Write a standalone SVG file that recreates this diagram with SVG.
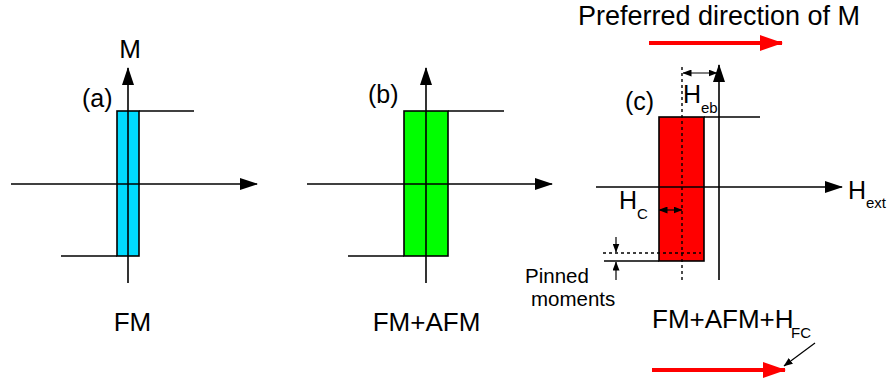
<svg xmlns="http://www.w3.org/2000/svg" width="891" height="382" viewBox="0 0 891 382">
<style>
text{font-family:"Liberation Sans",Arial,sans-serif;fill:#000}
.ax{stroke:#000;stroke-width:1.6;fill:none}
.ln{stroke:#000;stroke-width:1.6;fill:none}
.box{stroke:#000;stroke-width:1.6}
.dash{stroke:#000;stroke-width:1.4;stroke-dasharray:3,3;fill:none}
.thin{stroke:#000;stroke-width:1.2;fill:none}
.red{stroke:#ff0000;stroke-width:4;fill:none}
.big{font-size:26px}
.lab{font-size:25px}
.sub{font-size:15px}
</style>
<defs>
<marker id="ah" viewBox="0 0 18 12" refX="17" refY="6" markerWidth="18" markerHeight="12" markerUnits="userSpaceOnUse" orient="auto"><path d="M0,0 L18,6 L0,12 Z" fill="#000"/></marker>
<marker id="sh" viewBox="0 0 9 7" refX="8.5" refY="3.5" markerWidth="9" markerHeight="7" markerUnits="userSpaceOnUse" orient="auto"><path d="M0,0 L9,3.5 L0,7 Z" fill="#000"/></marker>
<marker id="shs" viewBox="0 0 9 7" refX="0.5" refY="3.5" markerWidth="9" markerHeight="7" markerUnits="userSpaceOnUse" orient="auto"><path d="M9,0 L0,3.5 L9,7 Z" fill="#000"/></marker>
<marker id="rh" viewBox="0 0 23 16" refX="22" refY="8" markerWidth="23" markerHeight="16" markerUnits="userSpaceOnUse" orient="auto"><path d="M0,0 L23,8 L0,16 Z" fill="#ff0000"/></marker>
</defs>

<g id="panel-a">
<rect class="box" x="117" y="111" width="22" height="145" fill="#00dbff"/>
<line class="ln" x1="139" y1="111" x2="194" y2="111"/>
<line class="ln" x1="61" y1="256" x2="117" y2="256"/>
<line class="ax" x1="11" y1="184" x2="257" y2="184" marker-end="url(#ah)"/>
<line class="ax" x1="128" y1="283" x2="128" y2="68" marker-end="url(#ah)"/>
<text class="big" x="130" y="58" text-anchor="middle">M</text>
<text class="lab" x="82" y="107">(a)</text>
<text class="big" x="132.5" y="331" text-anchor="middle">FM</text>
</g>

<g id="panel-b">
<rect class="box" x="404" y="111" width="44" height="145" fill="#00ff00"/>
<line class="ln" x1="448" y1="111" x2="504" y2="111"/>
<line class="ln" x1="348" y1="256" x2="404" y2="256"/>
<line class="ax" x1="307" y1="184" x2="552" y2="184" marker-end="url(#ah)"/>
<line class="ax" x1="426" y1="283" x2="426" y2="68" marker-end="url(#ah)"/>
<text class="lab" x="368" y="103">(b)</text>
<text class="big" x="426.5" y="331" text-anchor="middle">FM+AFM</text>
</g>

<g id="panel-c">
<rect class="box" x="659" y="117" width="45" height="144" fill="#ff0000"/>
<line class="ln" x1="704" y1="117" x2="760" y2="117"/>
<line class="ln" x1="604" y1="261" x2="659" y2="261"/>
<line class="ax" x1="596" y1="187" x2="842" y2="187" marker-end="url(#ah)"/>
<line class="ax" x1="719" y1="280" x2="719" y2="65" marker-end="url(#ah)"/>
<line class="dash" x1="682" y1="67" x2="682" y2="283"/>
<line class="dash" x1="603" y1="253" x2="701" y2="253"/>
<text class="lab" x="625" y="110">(c)</text>
<text class="lab" x="683" y="103">H</text>
<text class="sub" x="701" y="113">eb</text>
<text class="lab" x="619" y="209">H</text>
<text class="sub" x="637" y="219">C</text>
<text class="lab" x="848" y="199">H</text>
<text class="sub" x="866" y="208">ext</text>
<text font-size="20.5" x="525" y="283">Pinned</text>
<text font-size="20.5" x="531" y="306">moments</text>
<text class="big" x="652" y="328">FM+AFM+H</text>
<text class="sub" x="791" y="338">FC</text>
</g>

<g id="connectors">
<line class="thin" x1="683" y1="73" x2="717" y2="73" marker-start="url(#shs)" marker-end="url(#sh)"/>
<line class="thin" x1="659" y1="210" x2="682" y2="210" marker-start="url(#shs)" marker-end="url(#sh)"/>
<line class="thin" x1="616" y1="237" x2="616" y2="252" marker-end="url(#sh)"/>
<line class="thin" x1="616" y1="280" x2="616" y2="262" marker-end="url(#sh)"/>
<line class="thin" x1="815" y1="343" x2="784" y2="366" marker-end="url(#sh)"/>
</g>

<g id="preferred-direction">
<text font-size="27" x="578" y="25">Preferred direction of M</text>
<line class="red" x1="649" y1="43" x2="782" y2="43" marker-end="url(#rh)"/>
<line class="red" x1="652" y1="370" x2="785" y2="370" marker-end="url(#rh)"/>
</g>
</svg>
